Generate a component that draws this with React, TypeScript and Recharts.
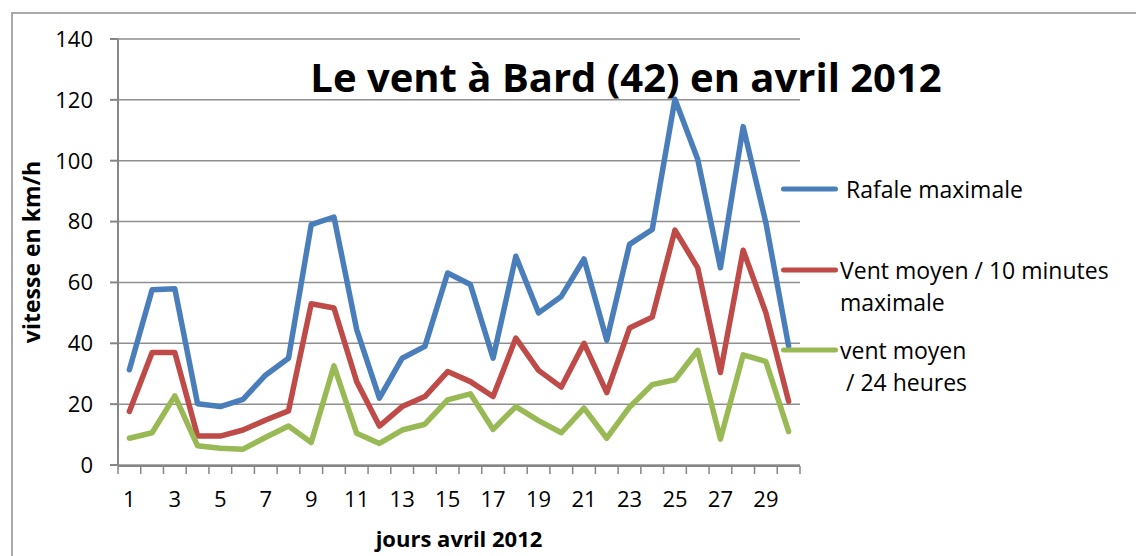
import React from "react";
import { LineChart, Line, XAxis, YAxis, CartesianGrid, Legend, Label } from "recharts";

// jours d'avril 2012
const days = [
  1, 2, 3, 4, 5, 6, 7, 8, 9, 10, 11, 12, 13, 14, 15, 16, 17, 18, 19, 20, 21, 22, 23, 24, 25, 26, 27, 28, 29, 30,
];

// vitesses en km/h
const rafaleMax = [
  31.3, 57.6, 57.9, 20.1, 19.2, 21.6, 29.6, 35.1, 79, 81.5, 44.5, 22, 35.1, 39, 63.1, 59.3, 35.1, 68.6, 50, 55.4,
  67.7, 41, 72.5, 77.4, 120.2, 100.5, 64.8, 111.2, 79.6, 39,
];
const ventMoyen10 = [
  17.6, 37, 37, 9.5, 9.5, 11.5, 14.8, 17.8, 53, 51.6, 27.4, 12.8, 19.2, 22.5, 30.7, 27.4, 22.5, 41.7, 31.1, 25.6,
  40, 23.8, 45, 48.6, 77.2, 64.8, 30.4, 70.6, 50, 20.9,
];
const ventMoyen24 = [
  8.8, 10.6, 22.7, 6.3, 5.5, 5.2, 9.1, 12.8, 7.4, 32.6, 10.4, 7.1, 11.5, 13.4, 21.4, 23.4, 11.7, 19.2, 14.6, 10.6,
  18.7, 8.8, 19, 26.4, 28, 37.7, 8.5, 36.2, 34, 11,
];

const yTicks = [0, 20, 40, 60, 80, 100, 120, 140];
const xTickLabels = [1, 3, 5, 7, 9, 11, 13, 15, 17, 19, 21, 23, 25, 27, 29];

const seriesNames = [" Rafale maximale", "Vent moyen / 10 minutes\nmaximale", "vent moyen\n / 24 heures"];

const data = days.map((day, i) => ({
  day,
  rafale: rafaleMax[i],
  vent10: ventMoyen10[i],
  vent24: ventMoyen24[i],
}));

// tick marks sit between the days, like Excel does
const edgeTicks = days.map((d) => d - 0.5).concat(days[days.length - 1] + 0.5);

const FONT = '"Open Sans", sans-serif';
const AXIS = "#868686";
const legendGaps = [0, 49, 16];

const LegendContent = (props: any) => {
  const payload = props.payload || [];
  return (
    <div style={{ fontFamily: FONT, fontSize: 23, color: "#000" }}>
      {payload.map((entry: any, i: number) => (
        <div key={i} style={{ display: "flex", alignItems: "flex-start", marginTop: legendGaps[i] }}>
          <svg width={57} height={32} style={{ flex: "none" }}>
            <line x1={2.5} x2={54.5} y1={16} y2={16} stroke={entry.color} strokeWidth={5} strokeLinecap="round" />
          </svg>
          <div style={{ whiteSpace: "pre", lineHeight: "32px", marginLeft: 2 }}>{entry.value}</div>
        </div>
      ))}
    </div>
  );
};

export default function App() {
  return (
    <div
      style={{
        position: "absolute",
        left: 0,
        top: 0,
        width: 1136,
        height: 556,
        overflow: "hidden",
        background: "#fff",
        fontFamily: FONT,
      }}
    >
      <div
        style={{
          position: "absolute",
          left: 11,
          top: 12,
          width: 1160,
          height: 580,
          border: "2px solid #a9a9a9",
        }}
      />
      <LineChart width={1136} height={556} data={data} margin={{ top: 39, right: 336, bottom: 89, left: 12 }}>
        <CartesianGrid vertical={false} stroke="#8f8f8f" strokeWidth={1.5} />
        <XAxis
          xAxisId="edges"
          dataKey="day"
          type="number"
          domain={[0.5, 30.5]}
          ticks={edgeTicks}
          height={1}
          interval={0}
          tick={() => <g />}
          tickSize={8}
          axisLine={{ stroke: AXIS, strokeWidth: 2 }}
          tickLine={{ stroke: AXIS, strokeWidth: 1.5 }}
        />
        <XAxis
          dataKey="day"
          type="number"
          domain={[0.5, 30.5]}
          ticks={xTickLabels}
          height={1}
          axisLine={false}
          tickLine={false}
          tickSize={8}
          tickMargin={18}
          interval={0}
          tick={{ fill: "#000", fontSize: 22, fontFamily: FONT }}
        >
          <Label
            value="jours avril 2012"
            position="bottom"
            offset={65}
            style={{ fontWeight: 700, fontSize: 22, fill: "#000", fontFamily: FONT }}
          />
        </XAxis>
        <YAxis
          domain={[0, 140]}
          ticks={yTicks}
          width={106}
          interval={0}
          tickSize={8}
          tickMargin={17}
          axisLine={{ stroke: AXIS, strokeWidth: 2 }}
          tickLine={{ stroke: AXIS, strokeWidth: 2 }}
          tick={{ fill: "#000", fontSize: 22, fontFamily: FONT }}
        >
          <Label
            value="vitesse en km/h"
            angle={-90}
            position="insideLeft"
            offset={20}
            style={{ textAnchor: "middle", fontWeight: 700, fontSize: 23, fill: "#000", fontFamily: FONT }}
          />
        </YAxis>
        <Legend
          layout="vertical"
          align="center"
          verticalAlign="middle"
          content={<LegendContent />}
          wrapperStyle={{ left: 781, top: 173, width: 355 }}
        />
        <Line
          dataKey="rafale"
          name={seriesNames[0]}
          stroke="#4A7EBB"
          strokeWidth={5.5}
          strokeLinejoin="round"
          strokeLinecap="round"
          dot={false}
          isAnimationActive={false}
        />
        <Line
          dataKey="vent10"
          name={seriesNames[1]}
          stroke="#BE4B48"
          strokeWidth={5.5}
          strokeLinejoin="round"
          strokeLinecap="round"
          dot={false}
          isAnimationActive={false}
        />
        <Line
          dataKey="vent24"
          name={seriesNames[2]}
          stroke="#98B954"
          strokeWidth={5.5}
          strokeLinejoin="round"
          strokeLinecap="round"
          dot={false}
          isAnimationActive={false}
        />
      </LineChart>
      <div
        style={{
          position: "absolute",
          left: 226,
          width: 800,
          top: 53,
          textAlign: "center",
          fontSize: 40,
          lineHeight: "48px",
          fontWeight: 700,
          color: "#000",
          whiteSpace: "nowrap",
        }}
      >
        Le vent à Bard (42) en avril 2012
      </div>
    </div>
  );
}
